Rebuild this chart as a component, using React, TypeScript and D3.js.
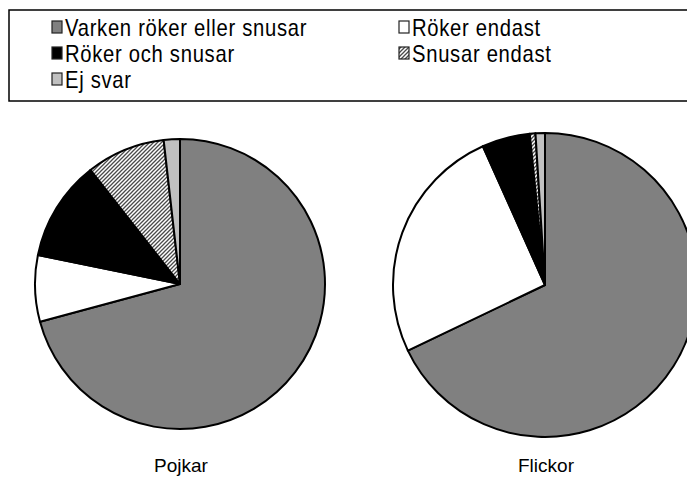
import * as d3 from 'd3';
import { useEffect, useRef } from 'react';

const categories = ['Varken röker eller snusar', 'Röker endast', 'Röker och snusar', 'Snusar endast', 'Ej svar'];
const pojkarValues = [70.8, 7.4, 11.2, 8.8, 1.8];
const flickorValues = [67.9, 25.4, 5.1, 0.6, 1.0];
const groupLabels = ['Pojkar', 'Flickor'];

const fills = ['#808080', '#ffffff', '#000000', 'url(#hatch)', '#c0c0c0'];
const legendFont = '"Liberation Sans", Arial, sans-serif';

const width = 687;
const height = 477;

const App = () => {
  const svgRef = useRef<SVGSVGElement | null>(null);

  useEffect(() => {
    if (!svgRef.current) return;
    const svg = d3.select(svgRef.current);
    svg.selectAll('*').remove();

    const defs = svg.append('defs');
    const pattern = defs
      .append('pattern')
      .attr('id', 'hatch')
      .attr('patternUnits', 'userSpaceOnUse')
      .attr('width', 4)
      .attr('height', 4);
    pattern.append('rect').attr('width', 4).attr('height', 4).attr('fill', '#ffffff');
    pattern
      .append('path')
      .attr('d', 'M-1,1 l2,-2 M0,4 l4,-4 M3,5 l2,-2')
      .attr('stroke', '#4a4a4a')
      .attr('stroke-width', 1.3);

    // legend
    const legend = svg.append('g');
    legend
      .append('rect')
      .attr('x', 9)
      .attr('y', 10)
      .attr('width', 700)
      .attr('height', 91)
      .attr('fill', '#ffffff')
      .attr('stroke', '#000')
      .attr('stroke-width', 1.5);

    const cols = [52, 399];
    const rows = [27, 53, 79];
    categories.forEach((name, index) => {
      const cx = cols[index % 2];
      const cy = rows[Math.floor(index / 2)];
      legend
        .append('rect')
        .attr('x', cx)
        .attr('y', cy - 6)
        .attr('width', 10)
        .attr('height', 12)
        .attr('fill', fills[index])
        .attr('stroke', '#222')
        .attr('stroke-width', 1.2);
      legend
        .append('text')
        .attr('transform', `translate(${cx + 13}, ${cy + 1}) scale(0.88, 1)`)
        .attr('dominant-baseline', 'central')
        .attr('font-family', legendFont)
        .attr('font-size', 23)
        .attr('letter-spacing', 0.8)
        .attr('fill', '#000')
        .text(name);
    });

    const pies = [
      { values: pojkarValues, cx: 180, cy: 284, r: 145, label: groupLabels[0] },
      { values: flickorValues, cx: 545, cy: 285, r: 152, label: groupLabels[1] },
    ];

    const pie = d3.pie<number>().value((v) => v).sort(null);

    pies.forEach((item) => {
      const arc = d3.arc<d3.PieArcDatum<number>>().innerRadius(0).outerRadius(item.r);
      const group = svg.append('g').attr('transform', `translate(${item.cx}, ${item.cy})`);
      group
        .selectAll('path')
        .data(pie(item.values))
        .join('path')
        .attr('d', arc)
        .attr('fill', (_, index) => fills[index])
        .attr('stroke', '#000')
        .attr('stroke-width', 2)
        .attr('stroke-linejoin', 'round');

      svg
        .append('text')
        .attr('x', item.cx + 1)
        .attr('y', 472)
        .attr('text-anchor', 'middle')
        .attr('font-family', '"Liberation Sans", Arial, sans-serif')
        .attr('font-size', 19)
        .attr('fill', '#000')
        .text(item.label);
    });
  }, []);

  return (
    <svg
      ref={svgRef}
      width={width}
      height={height}
      style={{ position: 'absolute', left: 0, top: 0, background: '#ffffff' }}
    />
  );
};

export default App;
